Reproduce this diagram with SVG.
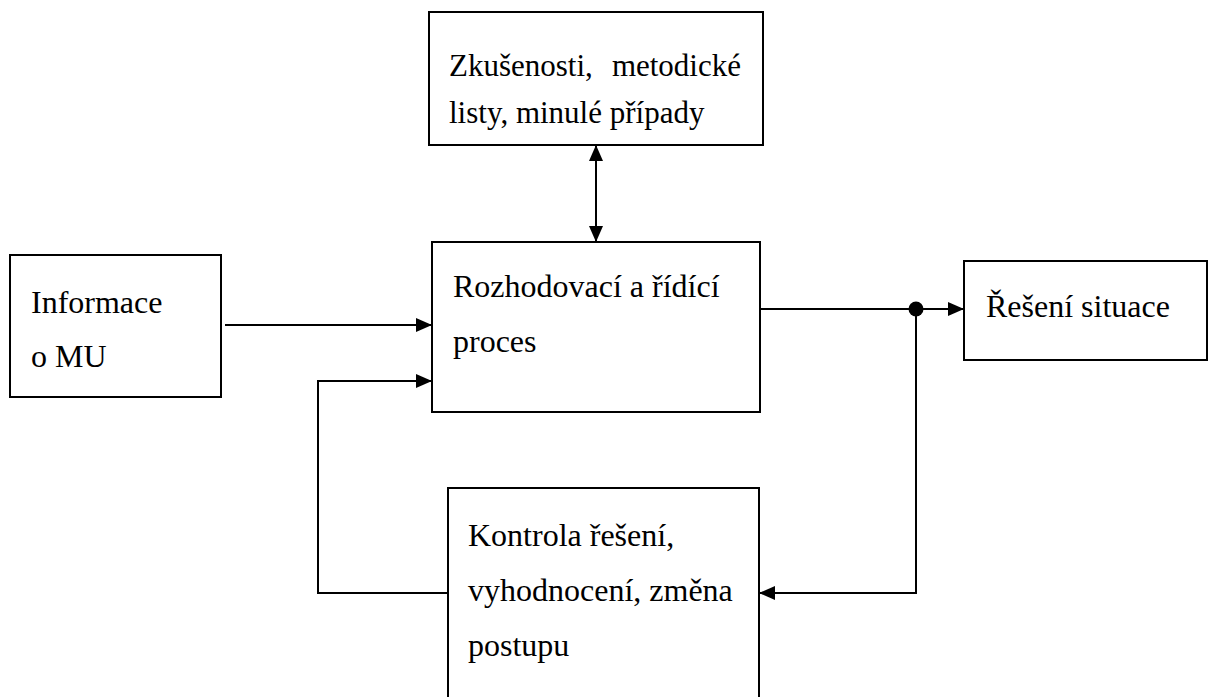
<svg xmlns="http://www.w3.org/2000/svg" width="1211" height="697" viewBox="0 0 1211 697">
  <style>
    .box { fill: #ffffff; stroke: #000000; stroke-width: 2; }
    .lbl { font-family: "Liberation Serif", "Times New Roman", serif; font-size: 32px; fill: #000000; }
    .lbl.sm { font-size: 31px; }
    .wire { fill: none; stroke: #000000; stroke-width: 2; }
  </style>
  <defs>
    <marker id="arrow" viewBox="0 0 16 14" refX="16" refY="7" markerWidth="16" markerHeight="14" markerUnits="userSpaceOnUse" orient="auto-start-reverse">
      <path d="M0,0 L16,7 L0,14 Z" fill="#000000"/>
    </marker>
  </defs>

  <rect width="1211" height="697" fill="#ffffff"/>

  <!-- connectors -->
  <g id="connectors">
    <!-- knowledge base <-> decision process -->
    <line class="wire" x1="596" y1="145" x2="596" y2="242" marker-start="url(#arrow)" marker-end="url(#arrow)"/>
    <!-- information input -->
    <line class="wire" x1="225" y1="325" x2="432" y2="325" marker-end="url(#arrow)"/>
    <!-- output to solution with branch point -->
    <line class="wire" x1="760" y1="309" x2="916" y2="309"/>
    <line class="wire" x1="916" y1="309" x2="964" y2="309" marker-end="url(#arrow)"/>
    <circle cx="916" cy="309" r="7.5" fill="#000000"/>
    <!-- branch down to control -->
    <path class="wire" d="M916,309 V593 H759" marker-end="url(#arrow)"/>
    <!-- feedback to decision process -->
    <path class="wire" d="M448,593 H318 V381 H432" marker-end="url(#arrow)"/>
  </g>

  <g id="node-knowledge">
    <rect class="box" x="429" y="12" width="334" height="133"/>
    <text class="lbl sm" x="449" y="76">Zkušenosti,</text>
    <text class="lbl sm" x="741" y="76" text-anchor="end">metodické</text>
    <text class="lbl sm" x="449" y="123">listy, minulé případy</text>
  </g>

  <g id="node-process">
    <rect class="box" x="432" y="242" width="328" height="170"/>
    <text class="lbl" x="453" y="297">Rozhodovací a řídící</text>
    <text class="lbl" x="453" y="352">proces</text>
  </g>

  <g id="node-info">
    <rect class="box" x="10" y="255" width="211" height="142"/>
    <text class="lbl" x="31" y="313">Informace</text>
    <text class="lbl" x="31" y="367">o MU</text>
  </g>

  <g id="node-solution">
    <rect class="box" x="964" y="261" width="243" height="99"/>
    <text class="lbl" x="986" y="317">Řešení situace</text>
  </g>

  <g id="node-control">
    <rect class="box" x="448" y="488" width="311" height="230"/>
    <text class="lbl" x="468" y="546">Kontrola řešení,</text>
    <text class="lbl" x="468" y="601">vyhodnocení, změna</text>
    <text class="lbl" x="468" y="656">postupu</text>
  </g>
</svg>
